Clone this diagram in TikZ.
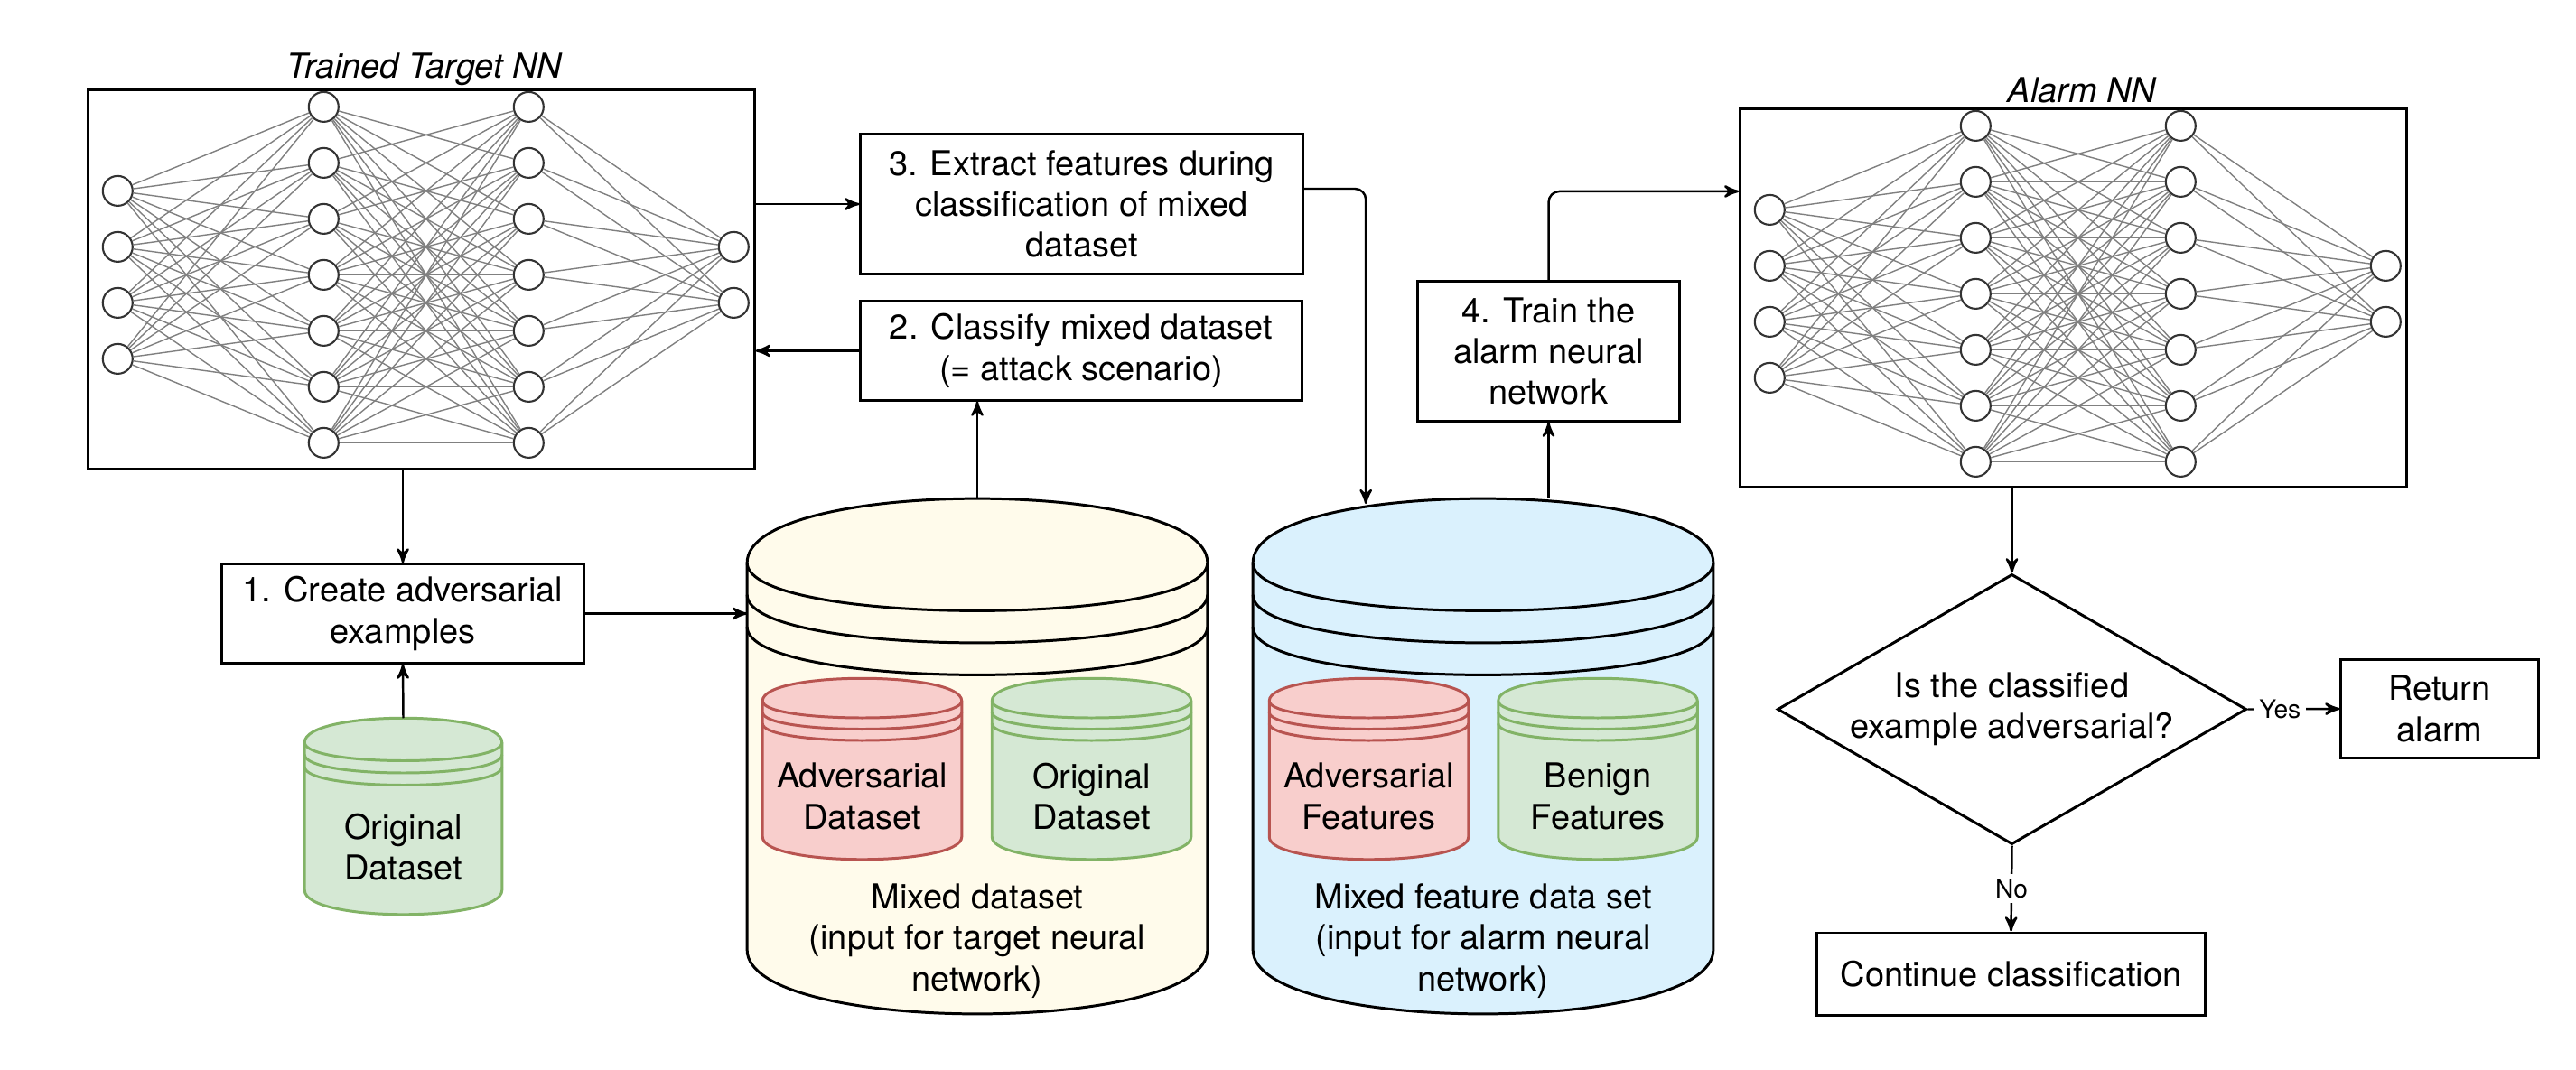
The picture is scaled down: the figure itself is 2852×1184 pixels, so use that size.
\documentclass[tikz,border=0pt]{standalone}
\usepackage{fontspec}
\setmainfont{TeX Gyre Heros}
\usepackage{xcolor}
\usepackage{tikz}
\usetikzlibrary{calc}
\usetikzlibrary{arrows}
\usetikzlibrary{shapes.geometric}

\definecolor{dsyellow}{HTML}{FFFBEB}
\definecolor{dsblue}{HTML}{DAF1FD}
\definecolor{redfill}{HTML}{F8CECC}
\definecolor{redline}{HTML}{B85450}
\definecolor{greenfill}{HTML}{D5E8D4}
\definecolor{greenline}{HTML}{82B366}

\tikzset{
  box/.style={draw, line width=0.85pt, align=center, inner sep=0pt},
  neuron/.style={circle, draw=black!80, fill=white, line width=0.6pt, minimum size=0.33cm, inner sep=0pt},
  nnline/.style={black!50, line width=0.4pt},
  store/.style={inner sep=0pt, draw=none},
  storetext/.style={align=center, inner sep=0pt},
  conn/.style={line width=0.7pt, ->, >=stealth'},
  edgelabel/.style={fill=white, inner sep=1.5pt, font=\fontsize{8}{9.6}\selectfont},
  nntitle/.style={font=\fontsize{10.8}{12.9}\selectfont\itshape, inner sep=0pt}
}

\newcommand{\dstore}[4]{%
\draw[fill=#3, draw=#4, line width=0.85pt] ($(#1.north west)+(0,#2)$) .. controls ($(#1.north west)+(0,-#2/3)$) and ($(#1.north east)+(0,-#2/3)$) .. ($(#1.north east)+(0,#2)$) -- ($(#1.south east)+(0,-#2)$) .. controls ($(#1.south east)+(0,#2/3)$) and ($(#1.south west)+(0,#2/3)$) .. ($(#1.south west)+(0,-#2)$) -- cycle;
\foreach \k in {1,1.5,2}
  \draw[draw=#4, line width=0.85pt] ($(#1.north west)+(0,\k*#2)$) .. controls ($(#1.north west)+(0,\k*#2+#2)$) and ($(#1.north east)+(0,\k*#2+#2)$) .. ($(#1.north east)+(0,\k*#2)$);
}

\newcommand{\nnet}[2]{%
\begin{scope}[shift={(#2.north west)}]
\foreach \i in {1,...,4} \node[neuron] (#1a\i) at (34,51+62*\i) {};
\foreach \i in {1,...,7} \node[neuron] (#1b\i) at (262,-42+62*\i) {};
\foreach \i in {1,...,7} \node[neuron] (#1c\i) at (489,-42+62*\i) {};
\foreach \i in {1,2} \node[neuron] (#1d\i) at (716,113+62*\i) {};
\end{scope}
\foreach \i in {1,...,4} \foreach \j in {1,...,7} \draw[nnline] (#1a\i) -- (#1b\j);
\foreach \i in {1,...,7} \foreach \j in {1,...,7} \draw[nnline] (#1b\i) -- (#1c\j);
\foreach \i in {1,...,7} \foreach \j in {1,2} \draw[nnline] (#1c\i) -- (#1d\j);
}

\begin{document}
\begin{tikzpicture}[x=0.01cm, y=-0.01cm, font=\fontsize{10.8}{12.9}\selectfont]
\path[use as bounding box, fill=white] (0,0) rectangle (2852,1184);

\node[box, minimum width=7.37cm, minimum height=4.19cm] (tnn) at (466.5,309.5) {};
\node[nntitle] (tnntitle) at (470,77) {Trained Target NN};
\nnet{t}{tnn}
\node[box, minimum width=7.37cm, minimum height=4.18cm] (anet) at (2295.5,330) {};
\node[nntitle] (anettitle) at (2305,100) {Alarm NN};
\nnet{al}{anet}

\node[box, minimum width=4.00cm, minimum height=1.09cm] (step1) at (446,679.5) {1. Create adversarial\\examples};
\node[box, minimum width=4.88cm, minimum height=1.09cm] (step2) at (1197,388.5) {2. Classify mixed dataset\\(= attack scenario)};
\node[box, minimum width=4.89cm, minimum height=1.54cm] (step3) at (1197.5,226) {3. Extract features during\\classification of mixed\\dataset};
\node[box, minimum width=2.89cm, minimum height=1.54cm] (step4) at (1714.5,389) {4. Train the\\alarm neural\\network};

\node[store, minimum width=2.17cm, minimum height=2.16cm] (orig) at (446.5,904) {};
\dstore{orig}{27}{greenfill}{greenline}
\node[storetext] (origtext) at (446.5,938) {Original\\Dataset};

\node[store, minimum width=5.08cm, minimum height=5.69cm] (mixed) at (1082,837.5) {};
\dstore{mixed}{71}{dsyellow}{black}
\node[storetext] (mixedtext) at (1082,1042) {Mixed dataset\\(input for target neural\\network)};
\node[store, minimum width=2.19cm, minimum height=1.99cm] (advds) at (954.5,851.5) {};
\dstore{advds}{25}{redfill}{redline}
\node[storetext] (advdstext) at (954.5,882) {Adversarial\\Dataset};
\node[store, minimum width=2.19cm, minimum height=1.99cm] (origds) at (1208.5,851.5) {};
\dstore{origds}{25}{greenfill}{greenline}
\node[storetext] (origdstext) at (1208.5,882) {Original\\Dataset};

\node[store, minimum width=5.08cm, minimum height=5.69cm] (feats) at (1642,837.5) {};
\dstore{feats}{71}{dsblue}{black}
\node[storetext] (featstext) at (1642,1042) {Mixed feature data set\\(input for alarm neural\\network)};
\node[store, minimum width=2.19cm, minimum height=1.99cm] (advft) at (1515.5,851.5) {};
\dstore{advft}{25}{redfill}{redline}
\node[storetext] (advfttext) at (1515.5,882) {Adversarial\\Features};
\node[store, minimum width=2.19cm, minimum height=1.99cm] (benft) at (1769,851.5) {};
\dstore{benft}{25}{greenfill}{greenline}
\node[storetext] (benfttext) at (1769,882) {Benign\\Features};

\node[box, diamond, aspect=1.736, minimum width=5.19cm, minimum height=2.99cm] (decide) at (2227.5,785.5) {Is the classified\\example adversarial?};
\node[box, minimum width=2.18cm, minimum height=1.08cm] (retal) at (2701,785) {Return\\alarm};
\node[box, minimum width=4.30cm, minimum height=0.91cm] (cont) at (2226.5,1078.5) {Continue classification};

\draw[conn] (tnn.south -| step1.north) -- (step1.north);
\draw[conn] (orig.north) -- (step1.south);
\draw[conn] (step1.east) -- (step1.east -| mixed.west);
\draw[conn] (mixed.north) -- (mixed.north |- step2.south);
\draw[conn] (step2.west) -- (step2.west -| tnn.east);
\draw[conn] (tnn.east |- step3.west) -- (step3.west);
\draw[conn, rounded corners=0.12cm] ([yshift=0.17cm]step3.east) -| ($(feats.north west)+(125,6)$);
\draw[conn] (feats.north -| step4.south) -- (step4.south);
\draw[conn, rounded corners=0.12cm] (step4.north) |- ([yshift=1.18cm]anet.west);
\draw[conn] (anet.south -| decide.north) -- (decide.north);
\draw[conn] (decide.east) -- node[edgelabel, pos=0.35] (yes) {Yes} (retal.west);
\draw[conn] (decide.south) -- node[edgelabel, pos=0.5] (no) {No} (cont.north);
\end{tikzpicture}
\end{document}
